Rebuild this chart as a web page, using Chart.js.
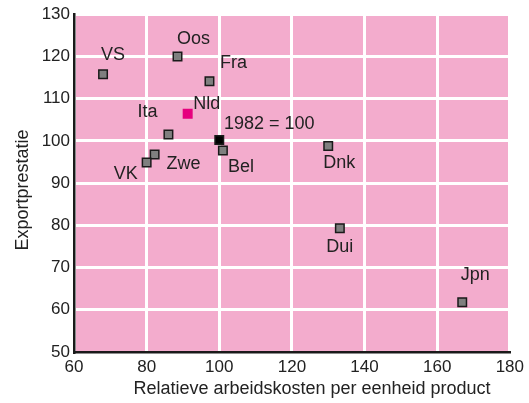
<!DOCTYPE html>
<html>
<head>
<meta charset="utf-8">
<script src="https://cdn.jsdelivr.net/npm/chart.js@4/dist/chart.umd.min.js"></script>
<style>
  body { margin: 0; background: #fff; }
</style>
</head>
<body>
<canvas id="exportChart" width="529" height="403"></canvas>
<script>
// Data
const countries = ['VS', 'Oos', 'Fra', 'Nld', 'Ita', '1982 = 100', 'Bel', 'Zwe', 'VK', 'Dnk', 'Dui', 'Jpn'];
const labourCosts = [68, 88.5, 97.3, 91.3, 86, 100, 101, 82.2, 80, 130, 133.2, 166.9];
const exportPerformance = [115.8, 120, 114.1, 106.4, 101.5, 100.2, 97.7, 96.8, 94.9, 98.8, 79.3, 61.8];
const xTicks = [60, 80, 100, 120, 140, 160, 180];
const yTicks = [50, 60, 70, 80, 90, 100, 110, 120, 130];

// Label offsets in pixels (relative to the point), centre aligned
const labelOffsets = [[10, -19], [16, -17], [24, -18], [19, -10], [-21, -23], [50, -16],
                      [18, 16], [29, 10], [-21, 12], [11, 17], [0, 19], [13, -27]];

const FONT = '"Liberation Sans", Arial, sans-serif';
const PINK = 'rgb(243, 172, 205)';
const TEXT = '#222';

const pointFill = countries.map(c => c === 'Nld' ? '#e6007e' : (c === '1982 = 100' ? '#000' : '#7f7f7f'));
const pointBorder = countries.map(c => c === 'Nld' ? '#e6007e' : '#1a1a1a');

// Pink plot background
const plotBackground = {
    id: 'plotBackground',
    beforeDraw(chart) {
        const { ctx, chartArea: a } = chart;
        ctx.save();
        ctx.fillStyle = PINK;
        ctx.fillRect(a.left, a.top, a.right - a.left, a.bottom - a.top);
        ctx.restore();
    }
};

// Country labels next to the points and the axis titles
const pointLabels = {
    id: 'pointLabels',
    afterDraw(chart) {
        const { ctx, chartArea: a } = chart;
        const meta = chart.getDatasetMeta(0);
        ctx.save();
        ctx.fillStyle = TEXT;
        ctx.font = '18px ' + FONT;
        ctx.textAlign = 'center';
        ctx.textBaseline = 'middle';
        meta.data.forEach((pt, i) => {
            ctx.fillText(countries[i], pt.x + labelOffsets[i][0], pt.y + labelOffsets[i][1]);
        });

        ctx.font = '18px ' + FONT;
        ctx.fillText('Relatieve arbeidskosten per eenheid product', 312, 389);
        ctx.translate(23, 190);
        ctx.rotate(-Math.PI / 2);
        ctx.fillText('Exportprestatie', 0, 0);
        ctx.restore();
    }
};

new Chart(document.getElementById('exportChart'), {
    type: 'scatter',
    data: {
        datasets: [{
            data: labourCosts.map((x, i) => ({ x: x, y: exportPerformance[i] })),
            pointStyle: 'rect',
            pointRadius: 6,
            pointHoverRadius: 6,
            pointBackgroundColor: pointFill,
            pointBorderColor: pointBorder,
            pointBorderWidth: 1.5
        }]
    },
    options: {
        responsive: false,
        animation: false,
        layout: { padding: { top: 14, right: 17, left: 0, bottom: 0 } },
        plugins: {
            legend: { display: false },
            tooltip: { enabled: false }
        },
        scales: {
            x: {
                type: 'linear',
                min: 60,
                max: 180,
                afterBuildTicks: scale => { scale.ticks = xTicks.map(v => ({ value: v })); },
                afterFit: scale => { scale.height = 51; },
                grid: { color: '#fff', lineWidth: 3, drawTicks: false },
                border: { color: '#1a1a1a', width: 2.5 },
                ticks: { color: TEXT, font: { family: FONT, size: 17 }, padding: 5, maxRotation: 0 }
            },
            y: {
                type: 'linear',
                min: 50,
                max: 130,
                afterBuildTicks: scale => { scale.ticks = yTicks.map(v => ({ value: v })); },
                afterFit: scale => { scale.width = 74; },
                grid: { color: '#fff', lineWidth: 3, drawTicks: false },
                border: { color: '#1a1a1a', width: 2.5 },
                ticks: { color: TEXT, font: { family: FONT, size: 17 }, padding: 4 }
            }
        }
    },
    plugins: [plotBackground, pointLabels]
});
</script>
</body>
</html>
